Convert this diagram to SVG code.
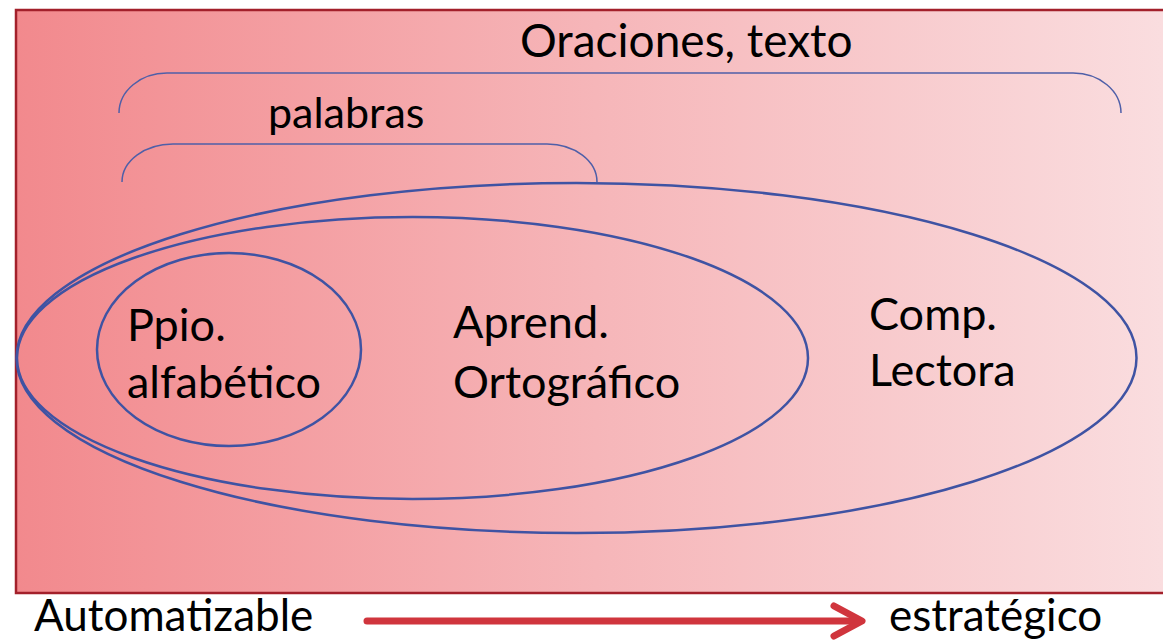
<svg xmlns="http://www.w3.org/2000/svg" width="1163" height="640" viewBox="0 0 1163 640">
<defs>
<linearGradient id="bg" x1="0" y1="0" x2="1" y2="0">
<stop offset="0" stop-color="#F2898D"/>
<stop offset="0.5" stop-color="#F6B6B9"/>
<stop offset="1" stop-color="#FADEE0"/>
</linearGradient>
<style>
.t{font-family:Lato,"Open Sans",sans-serif;fill:#000;}
.big{font-size:45px;}
.ell{fill:none;stroke:#3F53A3;stroke-width:2.5;}
.br{fill:none;stroke:#4F5FA8;stroke-width:1.5;}
.arr{fill:none;stroke:#D0353D;stroke-width:7;stroke-linecap:round;stroke-linejoin:round;}
</style>
</defs>
<rect x="0" y="0" width="1163" height="640" fill="#fff"/>
<rect id="panel" x="16" y="10" width="1160" height="583" fill="url(#bg)" stroke="#A3202B" stroke-width="2.5"/>
<g id="connectors">
<path class="br" d="M119,113 A48,40 0 0 1 167,73 H1073 A48,40 0 0 1 1121,113"/>
<path class="br" d="M122,182 A51,38 0 0 1 173,144 H547 A50,38 0 0 1 597,182"/>
<path class="arr" d="M367,621 H858"/>
<path class="arr" d="M834,606 L862,621 L834,636"/>
</g>
<g id="comp-lectora">
<ellipse class="ell" cx="576.5" cy="358" rx="560" ry="175"/>
<text class="t big" x="869" y="330">Comp.</text>
<text class="t big" x="869" y="386">Lectora</text>
</g>
<g id="aprend-ortografico">
<ellipse class="ell" cx="412.5" cy="358" rx="395.5" ry="141"/>
<text class="t big" x="453" y="338">Aprend.</text>
<text class="t big" x="453" y="398">Ortográfico</text>
</g>
<g id="ppio-alfabetico">
<ellipse class="ell" cx="229" cy="349.5" rx="132" ry="96.5"/>
<text class="t big" x="127" y="341">Ppio.</text>
<text class="t big" x="127" y="398">alfabético</text>
</g>
<g id="labels">
<text class="t" font-size="46" x="520" y="57">Oraciones, texto</text>
<text class="t" font-size="43" x="268" y="128">palabras</text>
<text class="t" font-size="44" x="34" y="631">Automatizable</text>
<text class="t" font-size="44" x="889" y="631">estratégico</text>
</g>
</svg>
